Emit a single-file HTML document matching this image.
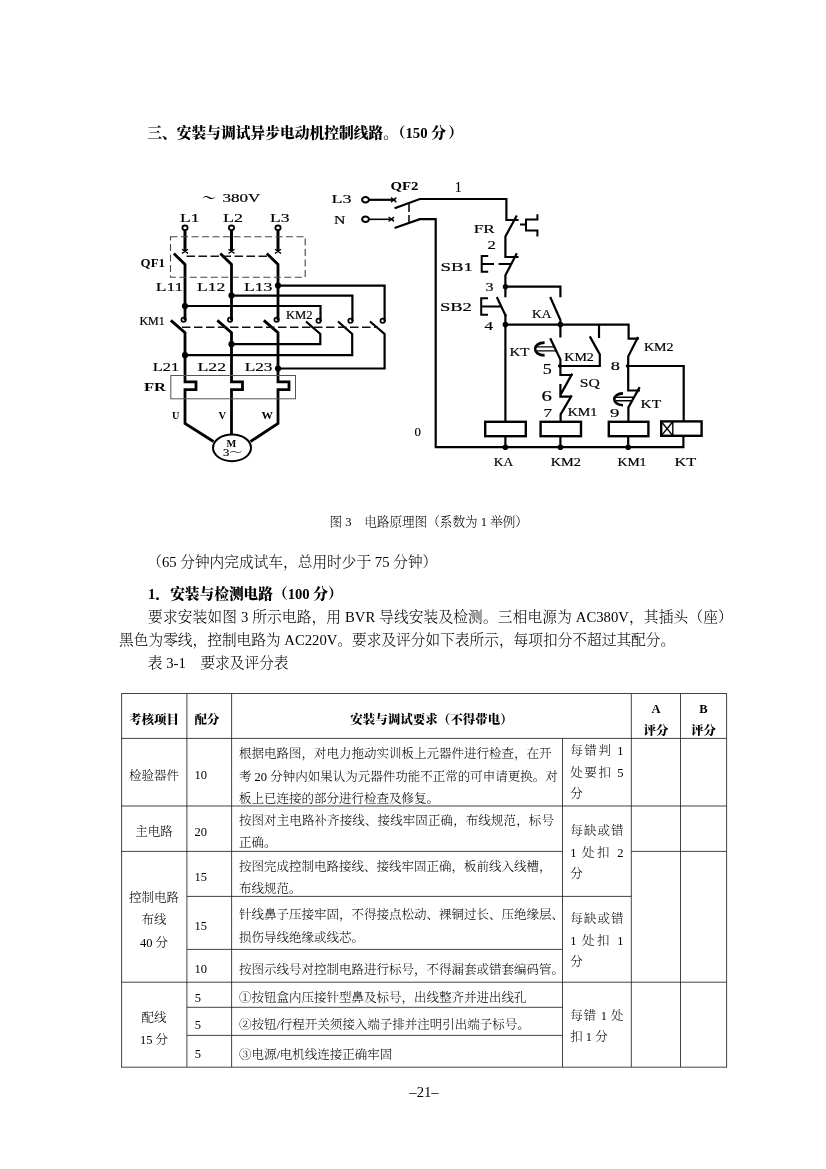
<!DOCTYPE html>
<html lang="zh-CN">
<head>
<meta charset="utf-8">
<title>安装与调试异步电动机控制线路</title>
<style>
html,body{margin:0;padding:0;background:#fff;}
body{width:826px;height:1169px;position:relative;overflow:hidden;
  font-family:"Liberation Serif","Noto Serif CJK SC",serif;color:#000;}
#page{will-change:transform;position:absolute;left:0;top:0;width:826px;height:1169px;background:#fff;overflow:hidden;}
.t{position:absolute;white-space:nowrap;font-weight:300;font-size:14.7px;line-height:22px;height:22px;margin:0;}
.b{font-weight:900;}
.j{text-align:justify;text-align-last:justify;text-justify:inter-character;}
.c{text-align:center;}
.s{font-size:12.5px;}
.cap{font-size:12.45px;}
svg{position:absolute;left:0;top:0;}
svg text{font-family:"Liberation Serif","Noto Serif CJK SC",serif;fill:#000;}
</style>
</head>
<body>
<div id="page">
<div class="t b" style="left:147.3px;top:121.9px;font-size:14.76px;">三、安装与调试异步电动机控制线路。（150 分<span style="margin-left:2.2px">）</span></div>
<div class="t cap" style="left:329.6px;top:510.6px;font-size:12.6px;">图 3　电路原理图（系数为 1 举例）</div>
<div class="t" style="left:147.2px;top:550.6px;">（65 分钟内完成试车，总用时少于 75 分钟）</div>
<div class="t b" style="left:148.1px;top:583.1px;">1．安装与检测电路（100 分）</div>
<div class="t j" style="left:148.1px;width:584.7px;top:605.7px;">要求安装如图 3 所示电路，用 BVR 导线安装及检测。三相电源为 AC380V，其插头（座）</div>
<div class="t" style="left:119.1px;top:628.5px;">黑色为零线，控制电路为 AC220V。要求及评分如下表所示，每项扣分不超过其配分。</div>
<div class="t" style="left:147.8px;top:651.8px;">表 3-1　要求及评分表</div>
<div class="t c" style="left:374px;width:100px;top:1081.2px;">–21–</div>

<svg id="grid" width="826" height="1169" viewBox="0 0 826 1169">
<g fill="none" stroke="#222" stroke-width="0.85">
<path d="M121.6 693.1V1067.6000000000001M186.9 693.5V1067.2M231.6 693.5V1067.2M562.5 738.4V1067.2M631.3 693.5V1067.2M680.5 693.5V1067.2M726.6 693.1V1067.6000000000001"/>
<path d="M121.6 693.5H726.6M121.6 738.4H726.6M121.6 806.0H726.6M121.6 851.4H562.5M631.3 851.4H726.6M186.9 896.4H631.3M186.9 949.4H562.5M121.6 982.2H726.6M186.9 1007.3H562.5M186.9 1035.4H562.5M121.6 1067.2H726.6"/>
</g>
</svg>
<div class="t s b c" style="left:121.3px;width:65.3px;top:708.7px;">考核项目</div>
<div class="t s b" style="left:194.6px;top:708.7px;">配分</div>
<div class="t s b c" style="left:231.5px;width:400.2px;top:708.7px;">安装与调试要求（不得带电）</div>
<div class="t s b c" style="left:631.7px;width:48.7px;top:697.5px;">A</div>
<div class="t s b c" style="left:631.7px;width:48.7px;top:719.9px;">评分</div>
<div class="t s b c" style="left:680.4px;width:46px;top:697.5px;">B</div>
<div class="t s b c" style="left:680.4px;width:46px;top:719.9px;">评分</div>

<div class="t s c" style="left:121.3px;width:65.3px;top:765.1px;">检验器件</div>
<div class="t s" style="left:194.5px;top:764.4px;">10</div>
<div class="t s j" style="left:238.9px;width:311px;top:742.8px;">根据电路图，对电力拖动实训板上元器件进行检查，在开</div>
<div class="t s j" style="left:238.9px;width:316px;top:765.5px;">考 20 分钟内如果认为元器件功能不正常的可申请更换。对</div>
<div class="t s" style="left:238.9px;top:787.6px;">板上已连接的部分进行检查及修复。</div>
<div class="t s j" style="left:570.2px;width:53.4px;top:740.3px;">每错判 1</div>
<div class="t s j" style="left:570.2px;width:53.4px;top:762.3px;">处要扣 5</div>
<div class="t s" style="left:570.2px;top:783.4px;">分</div>

<div class="t s c" style="left:121.3px;width:65.3px;top:820.9px;">主电路</div>
<div class="t s" style="left:194.5px;top:820.7px;">20</div>
<div class="t s j" style="left:238.9px;width:315px;top:810.1px;">按图对主电路补齐接线、接线牢固正确，布线规范，标号</div>
<div class="t s" style="left:238.9px;top:832.2px;">正确。</div>
<div class="t s j" style="left:570.2px;width:53.4px;top:820.2px;">每缺或错</div>
<div class="t s j" style="left:570.2px;width:53.4px;top:842.0px;">1 处扣 2</div>
<div class="t s" style="left:570.2px;top:863.4px;">分</div>

<div class="t s c" style="left:121.3px;width:65.3px;top:886.8px;">控制电路</div>
<div class="t s c" style="left:121.3px;width:65.3px;top:909.4px;">布线</div>
<div class="t s c" style="left:121.3px;width:65.3px;top:931.8px;">40 分</div>
<div class="t s" style="left:194.5px;top:866.2px;">15</div>
<div class="t s j" style="left:238.9px;width:311px;top:855.5px;">按图完成控制电路接线、接线牢固正确，板前线入线槽，</div>
<div class="t s" style="left:238.9px;top:877.9px;">布线规范。</div>
<div class="t s" style="left:194.5px;top:914.9px;">15</div>
<div class="t s j" style="left:238.9px;width:316px;top:904.2px;">针线鼻子压接牢固，不得接点松动、裸铜过长、压绝缘层、</div>
<div class="t s" style="left:238.9px;top:926.6px;">损伤导线绝缘或线芯。</div>
<div class="t s j" style="left:570.2px;width:53.4px;top:908.2px;">每缺或错</div>
<div class="t s j" style="left:570.2px;width:53.4px;top:930.0px;">1 处扣 1</div>
<div class="t s" style="left:570.2px;top:950.6px;">分</div>
<div class="t s" style="left:194.5px;top:957.8px;">10</div>
<div class="t s j" style="left:238.9px;width:316px;top:958.5px;">按图示线号对控制电路进行标号，不得漏套或错套编码管。</div>

<div class="t s c" style="left:121.3px;width:65.3px;top:1007.0px;">配线</div>
<div class="t s c" style="left:121.3px;width:65.3px;top:1029.2px;">15 分</div>
<div class="t s" style="left:194.7px;top:986.5px;">5</div>
<div class="t s" style="left:238.9px;top:987.0px;">①按钮盒内压接针型鼻及标号，出线整齐并进出线孔</div>
<div class="t s" style="left:194.7px;top:1013.5px;">5</div>
<div class="t s" style="left:238.9px;top:1014.4px;">②按钮/行程开关须接入端子排并注明引出端子标号。</div>
<div class="t s" style="left:194.7px;top:1043.4px;">5</div>
<div class="t s" style="left:238.9px;top:1044.4px;">③电源/电机线连接正确牢固</div>
<div class="t s j" style="left:570.2px;width:53.4px;top:1005.4px;">每错 1 处</div>
<div class="t s" style="left:570.2px;top:1026.4px;">扣 1 分</div>

<svg id="circuit" width="826" height="1169" viewBox="0 0 826 1169">
<g fill="none" stroke="#000" stroke-width="2.5" stroke-linecap="butt" stroke-linejoin="miter">
<!-- main circuit: supply terminals -->
<g stroke-width="1.8">
<ellipse cx="185" cy="227.8" rx="2.6" ry="2.3"/><ellipse cx="231.5" cy="227.8" rx="2.6" ry="2.3"/><ellipse cx="278" cy="227.8" rx="2.6" ry="2.3"/>
<path d="M182 249.2l6 4.2M188 249.2l-6 4.2M228.5 249.2l6 4.2M234.5 249.2l-6 4.2M275 249.2l6 4.2M281 249.2l-6 4.2" stroke-width="1.3"/>
</g>
<path d="M185 230V251.4M231.5 230V251.4M278 230V251.4" stroke-width="3"/>
<!-- QF1 arms -->
<path d="M173.8 253.5L185 264.4V320.6M220.3 253.5L231.5 264.4V320.6M266.8 253.5L278 264.4V320.6" stroke-width="2.8"/>
<!-- KM1 contact circles -->
<g stroke-width="1.7"><circle cx="183.6" cy="319.8" r="2.2"/><circle cx="230.1" cy="319.8" r="2.2"/><circle cx="276.6" cy="319.8" r="2.2"/></g>
<!-- KM1 arms and down to FR -->
<path d="M170.8 320.4L185 332.7V381.8H196V389.6H185V423.5L213.5 441.5" stroke-width="2.8"/>
<path d="M217.3 320.4L231.5 332.7V381.8H242.5V389.6H231.5V434.4" stroke-width="2.8"/>
<path d="M263.8 320.4L278 332.7V381.8H289V389.6H278V423.5L250.5 441.5" stroke-width="2.8"/>
<!-- cross links to KM2 -->
<path d="M278 285.6H384.6V321.6M231.5 295.6H352.4V321.6M185 306H320.5V321.6" stroke-width="2.2"/>
<g stroke-width="1.7"><circle cx="318.6" cy="320.8" r="2.2"/><circle cx="350.5" cy="320.8" r="2.2"/><circle cx="382.7" cy="320.8" r="2.2"/></g>
<path d="M306 321.5L320.3 334V344.2H231.5M338 321.5L352.2 334V355.2H185M370 321.5L384.6 334V368.5H278" stroke-width="2.2"/>
<!-- motor -->
<ellipse cx="232" cy="447.8" rx="19" ry="13.4" stroke-width="2"/>
</g>
<!-- junction dots -->
<g fill="#000" stroke="none">
<circle cx="278" cy="285.6" r="3.1"/><circle cx="231.5" cy="295.6" r="3.1"/><circle cx="185" cy="306" r="3.1"/>
<circle cx="231.5" cy="344.2" r="3.1"/><circle cx="185" cy="355.2" r="3.1"/><circle cx="278" cy="368.5" r="3.1"/>
</g>
<!-- dashed parts -->
<g fill="none" stroke="#444" stroke-width="1.1">
<path d="M170.5 236.8H305.2V277.2H170.5Z" stroke-dasharray="7 3.5"/>
<path d="M186.5 256.2H268" stroke-dasharray="8.5 3.5" stroke="#111" stroke-width="1.6"/>
<path d="M182 327.2H378" stroke-dasharray="8.5 3.5" stroke="#111" stroke-width="1.6"/>
<rect x="170.8" y="375.5" width="124.7" height="23.3" stroke="#555" stroke-width="1"/>
</g>
<!-- control circuit -->
<g fill="none" stroke="#000" stroke-width="2.2" stroke-linecap="butt" stroke-linejoin="miter">
<g stroke-width="2"><ellipse cx="365.5" cy="199.8" rx="3.4" ry="2.8"/><ellipse cx="365.5" cy="219.3" rx="3.4" ry="2.8"/></g>
<path d="M369 199.8H395.5" stroke-width="2.2"/><path d="M369 219.3H393.5" stroke-width="1.6"/>
<path d="M391 197.4l5.4 4.8M396.4 197.4l-5.4 4.8M388.6 217l5.4 4.6M394 217l-5.4 4.6" stroke-width="1.3"/>
<path d="M394.6 208.3L419.8 199H506.4V220H518.6"/>
<path d="M394.6 228L419.8 219.2H435.7V447.2H683.4V436"/>
<path d="M409 203V223" stroke-width="1.5" stroke-dasharray="9 3"/>
<!-- FR NC -->
<path d="M516.8 215.5L505.4 236.6V257H518.6"/>
<path d="M520 224.6H526M537.4 214.3V219.6H526V230.5H537.4V236.6" stroke-width="2"/>
<!-- SB1 NC -->
<path d="M516.8 253.3L505.4 275.3V297.2"/>
<path d="M488.2 256H481.7V271.8H488.2M481.7 264H494M498.6 264H511.3" stroke-width="2"/>
<!-- node 3 to KA -->
<path d="M505.4 286.7H560.4V297.2"/>
<!-- SB2 NO -->
<path d="M496.8 297L506 316.5"/>
<path d="M505.4 314V421.8"/>
<path d="M488 298.3H481.2V314.8H488M481.2 306.4H500.6" stroke-width="2"/>
<!-- KA contact -->
<path d="M550.2 297L560.4 320V337.4"/>
<!-- node 4 line -->
<path d="M505.4 324.6H628.6V338.6H638.8M599 324.6V338"/>
<!-- KT timed NO -->
<path d="M550.2 338.3L560.4 359.5V375H572.4"/>
<path d="M544.6 342.6C532 342.8 532 355.2 544.6 355.4" stroke-width="2.6"/><path d="M536.4 346.9H554.6M536.6 350.9H556.4" stroke-width="1.4"/>
<!-- KM2 NO -->
<path d="M589.8 336.4L599.8 354.4V366H560.4"/>
<!-- SQ NC and KM1 NC -->
<path d="M572.2 373.6L560.6 394.6M560.4 384V396.6H572M571.8 395.4L560.6 414.4V421.8"/>
<!-- KM2 NC -->
<path d="M638 337.1L628.2 356.4V390.5H640"/>
<path d="M628.2 366H683.7V421.8"/>
<!-- KT NC timed -->
<path d="M639.7 387.1L628.4 407.4V421.8"/>
<path d="M623 393.4C611.4 393.6 611.4 405 623 405.2" stroke-width="2.6"/><path d="M615.4 397.3H633.8M615.6 400.8H632" stroke-width="1.4"/>
<!-- coils -->
<g stroke-width="2.4">
<rect x="485.2" y="421.8" width="40.6" height="14.4"/>
<rect x="540.6" y="421.8" width="40.4" height="14.4"/>
<rect x="608.8" y="421.8" width="39.6" height="14.4"/>
<rect x="661.2" y="421.4" width="40.4" height="14.4"/>
</g>
<path d="M672.8 421.4V435.8M661.6 422L672.6 435.4M672.6 422L661.6 435.4" stroke-width="1.4"/>
<path d="M505.4 436.2V447.2M560.4 436.2V447.2M628.2 436.2V447.2"/>
</g>
<g fill="#000" stroke="none">
<circle cx="505.4" cy="286.7" r="2.6"/><circle cx="505.4" cy="324.6" r="2.8"/><circle cx="560.4" cy="324.6" r="2.8"/>
<circle cx="505.4" cy="447.2" r="2.8"/><circle cx="560.4" cy="447.2" r="2.8"/><circle cx="628.2" cy="447.2" r="2.8"/>
<circle cx="559.6" cy="366" r="1.7"/><circle cx="627.4" cy="366" r="1.7"/>
</g>
<!-- labels -->
<g font-size="12.5" stroke="#000" stroke-width="0.18">
<text lengthAdjust="spacingAndGlyphs" x="202" y="202.4" textLength="14" font-size="13" font-weight="bold" stroke="none">～</text><text lengthAdjust="spacingAndGlyphs" x="222.6" y="202" textLength="37.8" font-size="11.5">380V</text>
<text lengthAdjust="spacingAndGlyphs" x="180" y="222" textLength="19.5" font-size="13.5">L1</text>
<text lengthAdjust="spacingAndGlyphs" x="223" y="222" textLength="20" font-size="13.5">L2</text>
<text lengthAdjust="spacingAndGlyphs" x="270" y="222" textLength="19.5" font-size="13.5">L3</text>
<text lengthAdjust="spacingAndGlyphs" x="140.6" y="266.8" textLength="24.4" font-size="12" font-weight="bold" stroke="none">QF1</text>
<text lengthAdjust="spacingAndGlyphs" x="155.8" y="290.6" textLength="27.6" font-size="13">L11</text>
<text lengthAdjust="spacingAndGlyphs" x="197" y="290.6" textLength="28.4" font-size="13">L12</text>
<text lengthAdjust="spacingAndGlyphs" x="244" y="290.6" textLength="28.4" font-size="13">L13</text>
<text lengthAdjust="spacingAndGlyphs" x="139.4" y="325" textLength="25.4" font-size="12.5">KM1</text>
<text lengthAdjust="spacingAndGlyphs" x="286" y="319" textLength="26.6" font-size="12">KM2</text>
<text lengthAdjust="spacingAndGlyphs" x="152.7" y="371" textLength="26.4" font-size="13">L21</text>
<text lengthAdjust="spacingAndGlyphs" x="197.5" y="371.4" textLength="28.6" font-size="13">L22</text>
<text lengthAdjust="spacingAndGlyphs" x="244.7" y="371" textLength="27.8" font-size="13">L23</text>
<text lengthAdjust="spacingAndGlyphs" x="144" y="390.6" textLength="22" font-size="13.5" font-weight="bold" stroke="none">FR</text>
<text lengthAdjust="spacingAndGlyphs" x="172" y="418.6" textLength="7.4" font-size="10.5" font-weight="bold" stroke="none">U</text>
<text lengthAdjust="spacingAndGlyphs" x="218.4" y="419.4" textLength="7.6" font-size="10.5" font-weight="bold" stroke="none">V</text>
<text lengthAdjust="spacingAndGlyphs" x="261.6" y="419.2" textLength="11.4" font-size="10.5" font-weight="bold" stroke="none">W</text>
<text lengthAdjust="spacingAndGlyphs" x="226.6" y="446.6" textLength="9.8" font-size="10.5" font-weight="bold" stroke="none">M</text>
<text lengthAdjust="spacingAndGlyphs" x="223" y="456" textLength="19.2" font-size="10.5">3～</text>
<text lengthAdjust="spacingAndGlyphs" x="331.6" y="202.8" textLength="20" font-size="13.5">L3</text>
<text lengthAdjust="spacingAndGlyphs" x="334" y="224" textLength="11.4" font-size="13.5">N</text>
<text lengthAdjust="spacingAndGlyphs" x="390.4" y="190.4" textLength="28" font-size="11.5" font-weight="bold" stroke="none">QF2</text>
<text lengthAdjust="spacingAndGlyphs" x="455" y="191.6" textLength="6.6" font-size="14">1</text>
<text lengthAdjust="spacingAndGlyphs" x="473.7" y="233.4" textLength="21" font-size="13.5">FR</text>
<text lengthAdjust="spacingAndGlyphs" x="487.6" y="248.6" textLength="8.4" font-size="13.5">2</text>
<text lengthAdjust="spacingAndGlyphs" x="440.6" y="271" textLength="32.4" font-size="13.5">SB1</text>
<text lengthAdjust="spacingAndGlyphs" x="485.6" y="291" textLength="8" font-size="13.5">3</text>
<text lengthAdjust="spacingAndGlyphs" x="439.9" y="311" textLength="32" font-size="13.5">SB2</text>
<text lengthAdjust="spacingAndGlyphs" x="484.6" y="329.6" textLength="8.6" font-size="13.5">4</text>
<text lengthAdjust="spacingAndGlyphs" x="532" y="318.4" textLength="19.4" font-size="12.5">KA</text>
<text lengthAdjust="spacingAndGlyphs" x="509.5" y="356" textLength="20" font-size="13">KT</text>
<text lengthAdjust="spacingAndGlyphs" x="564.3" y="360.8" textLength="29.6" font-size="12.5">KM2</text>
<text lengthAdjust="spacingAndGlyphs" x="644" y="350.6" textLength="29.6" font-size="12.5">KM2</text>
<text lengthAdjust="spacingAndGlyphs" x="542.8" y="374" textLength="9" font-size="14">5</text>
<text lengthAdjust="spacingAndGlyphs" x="541.4" y="401.2" textLength="10.4" font-size="14">6</text>
<text lengthAdjust="spacingAndGlyphs" x="543.6" y="417.4" textLength="8.6" font-size="13.5">7</text>
<text lengthAdjust="spacingAndGlyphs" x="579.8" y="386.6" textLength="20" font-size="12.5">SQ</text>
<text lengthAdjust="spacingAndGlyphs" x="567.7" y="416.4" textLength="29.6" font-size="12.5">KM1</text>
<text lengthAdjust="spacingAndGlyphs" x="610.7" y="370.4" textLength="9.2" font-size="13.5">8</text>
<text lengthAdjust="spacingAndGlyphs" x="610" y="417.4" textLength="9.4" font-size="13.5">9</text>
<text lengthAdjust="spacingAndGlyphs" x="640.5" y="408.2" textLength="20.6" font-size="13">KT</text>
<text lengthAdjust="spacingAndGlyphs" x="414.6" y="436.4" textLength="6.4" font-size="12.5">0</text>
<text lengthAdjust="spacingAndGlyphs" x="493.8" y="465.6" textLength="19.4" font-size="12.5">KA</text>
<text lengthAdjust="spacingAndGlyphs" x="550.7" y="465.6" textLength="30.2" font-size="12.5">KM2</text>
<text lengthAdjust="spacingAndGlyphs" x="617.5" y="466.4" textLength="29" font-size="12.5">KM1</text>
<text lengthAdjust="spacingAndGlyphs" x="674.4" y="465.6" textLength="21.8" font-size="12.5">KT</text>
</g>
</svg>

</div>
</body>
</html>
